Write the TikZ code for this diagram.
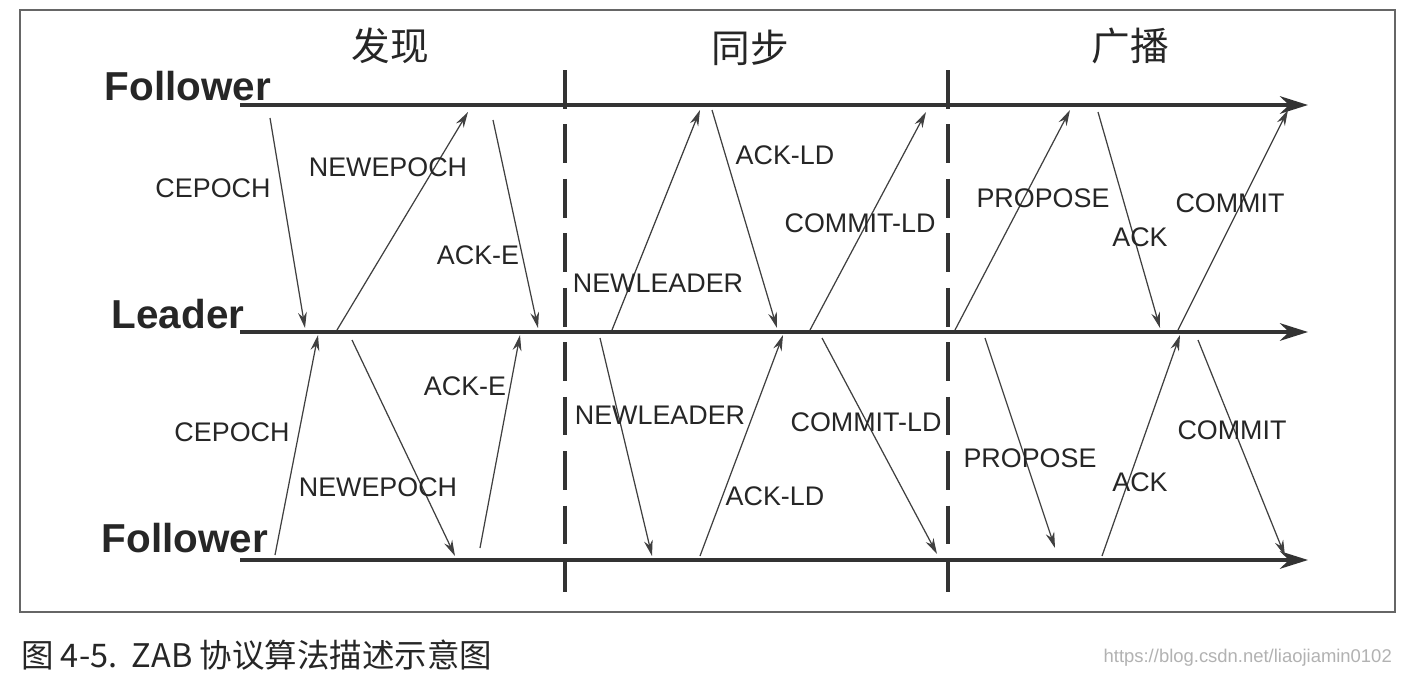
\documentclass[tikz,border=0pt]{standalone}
\usepackage{fontspec}
\setmainfont{Liberation Sans}
\newfontfamily\cjk{Noto Sans CJK SC}
\usetikzlibrary{arrows.meta}
\begin{document}
\begin{tikzpicture}[x=0.02cm,y=-0.02cm,
  msg/.style={draw=black!75,line width=0.7pt,-{Stealth[length=9pt,width=5pt]}},
  axis/.style={draw=black!80,line width=2.2pt,-{Stealth[length=16pt,width=10pt]}},
  phase/.style={draw=black!80,line width=2.2pt,dash pattern=on 22pt off 9pt},
  lbl/.style={font=\fontsize{15.3}{17}\selectfont,text=black!85},
  role/.style={font=\fontsize{23}{25}\selectfont\bfseries,text=black!85},
  head/.style={font=\cjk\fontsize{22}{24}\selectfont,text=black!85}]
\useasboundingbox (0,0) rectangle (1404,676);
\fill[white] (0,0) rectangle (1404,676);
\draw[black!60,line width=0.8pt] (20,10) rectangle (1395,612);
\coordinate (f1s) at (240,105); \coordinate (f1e) at (1308,105);
\coordinate (lds) at (240,332); \coordinate (lde) at (1308,332);
\coordinate (f2s) at (240,560); \coordinate (f2e) at (1308,560);
\draw[axis] (f1s) -- (f1e);
\draw[axis] (lds) -- (lde);
\draw[axis] (f2s) -- (f2e);
\coordinate (d1t) at (565,70); \coordinate (d1b) at (565,592);
\coordinate (d2t) at (948,70); \coordinate (d2b) at (948,592);
\draw[phase] (d1t) -- (d1b);
\draw[phase] (d2t) -- (d2b);
\node[head] (h1) at (390,46) {发现};
\node[head] (h2) at (750,48) {同步};
\node[head] (h3) at (1130,46) {广播};
\node[role] (r1) at (188,86) {Follower};
\node[role] (r2) at (178,314) {Leader};
\node[role] (r3) at (185,538) {Follower};
\foreach \n/\a/\b/\c/\d in {t1/270/118/305/328, t2/337/330/468/112, t3/493/120/538/328,
  t4/612/330/700/110, t5/712/110/777/328, t6/810/330/926/112,
  t7/955/330/1070/110, t8/1098/112/1160/328, t9/1178/330/1288/110,
  b1/275/555/318/335, b2/352/340/455/556, b3/480/548/520/335,
  b4/600/338/652/556, b5/700/556/783/335, b6/822/338/937/554,
  b7/985/338/1055/548, b8/1102/556/1180/335, b9/1198/340/1285/556}{
  \coordinate (\n s) at (\a,\b); \coordinate (\n e) at (\c,\d);
  \draw[msg] (\n s) -- (\n e);}
\foreach \n/\x/\y/\t in {l1/213/188/CEPOCH, l2/388/167/NEWEPOCH, l3/478/255/ACK-E,
  l4/658/283/NEWLEADER, l5/785/155/ACK-LD, l6/860/223/COMMIT-LD,
  l7/1043/198/PROPOSE, l8/1140/237/ACK, l9/1230/203/COMMIT,
  m1/232/432/CEPOCH, m2/378/487/NEWEPOCH, m3/465/386/ACK-E,
  m4/660/415/NEWLEADER, m5/775/496/ACK-LD, m6/866/422/COMMIT-LD,
  m7/1030/458/PROPOSE, m8/1140/482/ACK, m9/1232/430/COMMIT}{
  \node[lbl] (\n) at (\x,\y) {\t};}
\node[anchor=west,font=\cjk\fontsize{18.5}{20}\selectfont,text=black!85] (cap) at (15,655) {图 4-5.\ \ ZAB 协议算法描述示意图};
\node[anchor=east,font=\fontsize{10.5}{12}\selectfont,text=black!30] (wm) at (1398,658) {https://blog.csdn.net/liaojiamin0102};
\end{tikzpicture}
\end{document}
